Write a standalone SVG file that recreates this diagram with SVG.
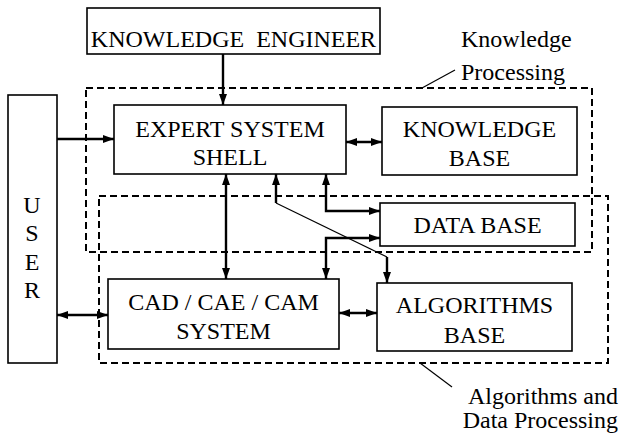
<svg xmlns="http://www.w3.org/2000/svg" width="621" height="433" viewBox="0 0 621 433">
<style>
.box{fill:#fff;stroke:#000;stroke-width:1.6}
.dash{fill:none;stroke:#000;stroke-width:2;stroke-dasharray:7 4}
text{font-family:'Liberation Serif','Times New Roman',Tinos,'DejaVu Serif',serif;font-size:24px;fill:#000}
.c{text-anchor:middle}
.a{fill:none;stroke:#000;stroke-width:2.4}
.thin{fill:none;stroke:#000;stroke-width:1.2}
</style>
<defs>
<marker id="ah" viewBox="0 0 11 8" markerWidth="11" markerHeight="8" refX="11" refY="4" orient="auto-start-reverse" markerUnits="userSpaceOnUse">
<path d="M0,0 L11,4 L0,8 z" fill="#000"/>
</marker>
</defs>
<g id="region-knowledge">
<rect class="dash" x="86" y="88" width="506" height="164"/>
<line class="thin" x1="422" y1="88" x2="455" y2="70"/>
<text font-family="Liberation Serif, serif" x="461" y="47">Knowledge</text>
<text font-family="Liberation Serif, serif" x="461" y="80">Processing</text>
</g>
<g id="region-algorithms">
<rect class="dash" x="99" y="196" width="509" height="167"/>
<line class="thin" x1="420" y1="363" x2="452" y2="387"/>
<text x="618" y="404" text-anchor="end">Algorithms and</text>
<text x="618" y="428" text-anchor="end">Data Processing</text>
</g>
<g id="knowledge-engineer">
<rect class="box" x="87" y="8" width="293" height="46"/>
<text class="c" x="233.5" y="47" xml:space="preserve">KNOWLEDGE  ENGINEER</text>
</g>
<g id="user">
<rect class="box" x="8" y="95" width="49" height="268"/>
<text class="c" x="32" y="213">U</text>
<text class="c" x="32" y="241">S</text>
<text class="c" x="32" y="270">E</text>
<text class="c" x="32" y="298">R</text>
</g>
<g id="expert-system-shell">
<rect class="box" x="114" y="105" width="232" height="69"/>
<text class="c" x="230" y="137">EXPERT SYSTEM</text>
<text class="c" x="230" y="165">SHELL</text>
</g>
<g id="knowledge-base">
<rect class="box" x="382" y="107" width="195" height="68"/>
<text class="c" x="479.5" y="137">KNOWLEDGE</text>
<text class="c" x="479.5" y="166">BASE</text>
</g>
<g id="data-base">
<rect class="box" x="380" y="203" width="195" height="43"/>
<text class="c" x="477.5" y="233">DATA BASE</text>
</g>
<g id="cad-cae-cam">
<rect class="box" x="108" y="279" width="231" height="70"/>
<text class="c" x="223.5" y="310">CAD / CAE / CAM</text>
<text class="c" x="223.5" y="339">SYSTEM</text>
</g>
<g id="algorithms-base">
<rect class="box" x="377" y="283" width="195" height="68"/>
<text class="c" x="474.5" y="313">ALGORITHMS</text>
<text class="c" x="474.5" y="343">BASE</text>
</g>
<g id="connectors">
<path class="a" d="M223,54 V105" marker-end="url(#ah)"/>
<path class="a" d="M57,139 H114" marker-end="url(#ah)"/>
<path class="a" d="M346,142 H382" marker-start="url(#ah)" marker-end="url(#ah)"/>
<path class="a" d="M226,174 V279" marker-start="url(#ah)" marker-end="url(#ah)"/>
<path class="a" d="M326,174 V211 H380" marker-start="url(#ah)" marker-end="url(#ah)"/>
<path class="a" d="M326,279 V238 H380" marker-start="url(#ah)" marker-end="url(#ah)"/>
<path class="a" d="M276,203 V174" marker-end="url(#ah)"/>
<path class="thin" d="M276,203 L387,257"/>
<path class="a" d="M387,257 V283" marker-end="url(#ah)"/>
<path class="a" d="M57,315 H108" marker-start="url(#ah)" marker-end="url(#ah)"/>
<path class="a" d="M339,313 H377" marker-start="url(#ah)" marker-end="url(#ah)"/>
</g>
</svg>
